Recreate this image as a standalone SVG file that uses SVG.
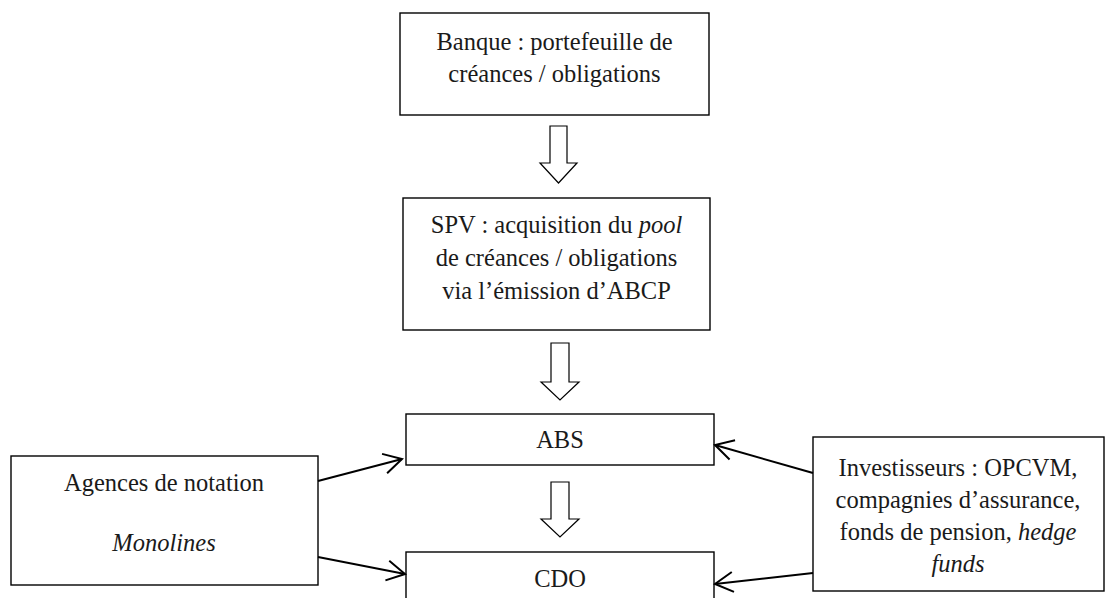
<svg xmlns="http://www.w3.org/2000/svg" width="1105" height="598" viewBox="0 0 1105 598">
<defs>
<style>
.box{fill:#fff;stroke:#000;stroke-width:1.4}
.t{font-family:"Liberation Serif","Times New Roman",serif;font-size:24.5px;fill:#1a1a1a;text-anchor:middle}
.i{font-style:italic}
.big{fill:#fff;stroke:#000;stroke-width:1.2}
.c{fill:none;stroke:#000;stroke-width:2}
</style>
<marker id="open" viewBox="0 0 22 24" refX="20" refY="12" markerWidth="22" markerHeight="24" markerUnits="userSpaceOnUse" orient="auto">
<path d="M2,2 L20,12 L2,22" fill="none" stroke="#000" stroke-width="2"/>
</marker>
</defs>
<rect width="1105" height="598" fill="#fff"/>
<g id="banque">
<rect class="box" x="400" y="13" width="309" height="102"/>
<text class="t" x="554.5" y="50">Banque : portefeuille de</text>
<text class="t" x="554.5" y="82">créances / obligations</text>
</g>
<g id="spv">
<rect class="box" x="403" y="198" width="307" height="132"/>
<text class="t" x="556.5" y="233">SPV : acquisition du <tspan class="i">pool</tspan></text>
<text class="t" x="556.5" y="266">de créances / obligations</text>
<text class="t" x="556.5" y="299">via l’émission d’ABCP</text>
</g>
<g id="abs">
<rect class="box" x="406" y="414" width="308" height="51"/>
<text class="t" x="560" y="448">ABS</text>
</g>
<g id="cdo">
<rect class="box" x="406" y="552" width="308" height="60"/>
<text class="t" x="560" y="587">CDO</text>
</g>
<g id="agences">
<rect class="box" x="11" y="456" width="307" height="129"/>
<text class="t" x="164" y="491">Agences de notation</text>
<text class="t i" x="164" y="551">Monolines</text>
</g>
<g id="investisseurs">
<rect class="box" x="813" y="437" width="291" height="154"/>
<text class="t" x="958" y="476">Investisseurs : OPCVM,</text>
<text class="t" x="958" y="508">compagnies d’assurance,</text>
<text class="t" x="958" y="540">fonds de pension, <tspan class="i">hedge</tspan></text>
<text class="t i" x="958" y="572">funds</text>
</g>
<g id="connectors">
<polygon class="big" points="550,126 567,126 567,163 577,163 558.5,183 540,163 550,163"/>
<polygon class="big" points="551,343 569,343 569,382 579,382 560,400 541,382 551,382"/>
<polygon class="big" points="551,482 569,482 569,519 579,519 560,537 541,519 551,519"/>
<line class="c" x1="318" y1="481" x2="402" y2="459" marker-end="url(#open)"/>
<line class="c" x1="318" y1="557" x2="405" y2="574" marker-end="url(#open)"/>
<line class="c" x1="813" y1="473" x2="715" y2="445" marker-end="url(#open)"/>
<line class="c" x1="813" y1="573" x2="715" y2="584" marker-end="url(#open)"/>
</g>
</svg>
